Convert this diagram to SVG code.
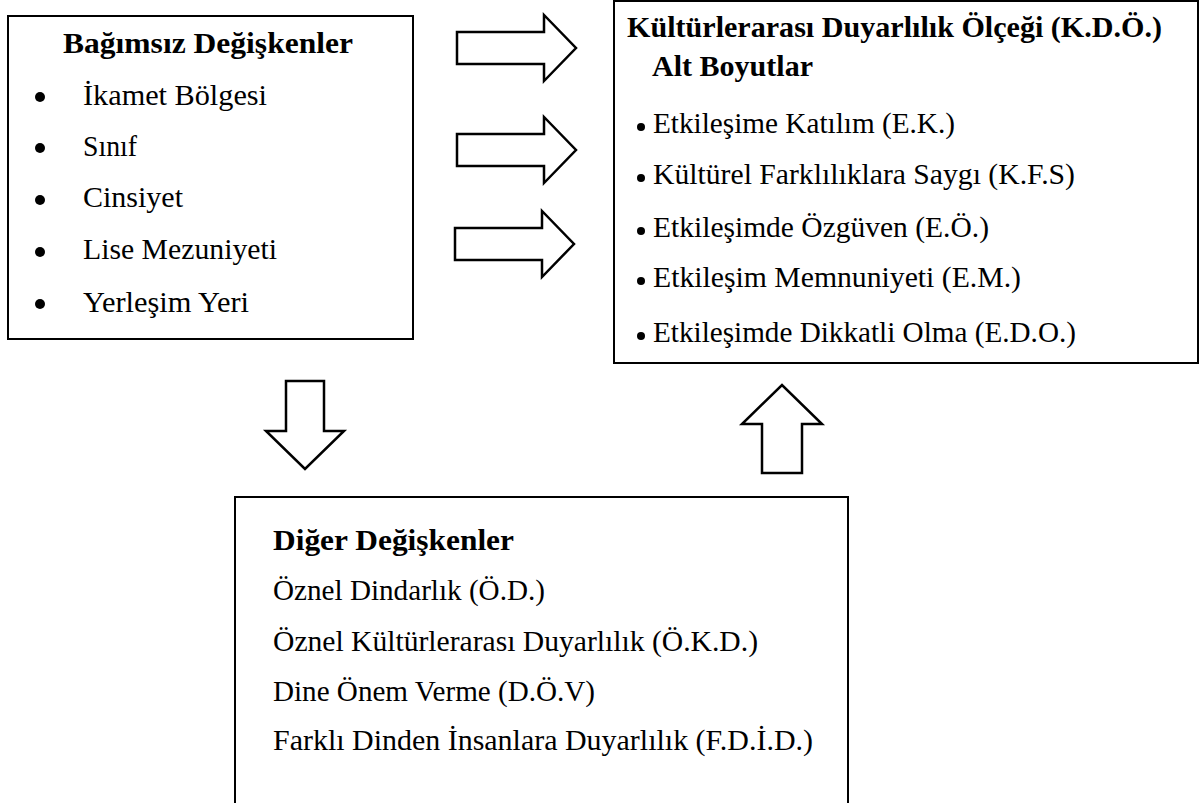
<svg xmlns="http://www.w3.org/2000/svg" width="1200" height="803" viewBox="0 0 1200 803">
<style>
.box{fill:#fff;stroke:#000;stroke-width:2}
.arr{fill:#fff;stroke:#000;stroke-width:2.5;stroke-linejoin:miter}
text{font-family:"Liberation Serif","DejaVu Serif",serif;font-size:28.5px;fill:#000}
.b{font-weight:bold}
.bul{fill:#000}
</style>
<rect width="1200" height="803" fill="#fff"/>
<g id="connectors">
<polygon class="arr" points="457,32 544,32 544,15 576,48 544,81 544,64 457,64"/>
<polygon class="arr" points="457,134 544,134 544,117 576,150 544,183 544,166 457,166"/>
<polygon class="arr" points="455,228 542,228 542,211 574,244 542,277 542,260 455,260"/>
<polygon class="arr" points="286,381 324,381 324,431 344,431 305,469 266,431 286,431"/>
<polygon class="arr" points="762,473 802,473 802,424 822,424 782,385 742,424 762,424"/>
</g>
<g id="bagimsiz">
<rect class="box" x="8" y="16" width="405" height="323"/>
<text class="b" x="63" y="53" textLength="290" lengthAdjust="spacingAndGlyphs">Bağımsız Değişkenler</text>
<circle class="bul" cx="40" cy="97" r="5"/>
<circle class="bul" cx="40" cy="148" r="5"/>
<circle class="bul" cx="40" cy="200" r="5"/>
<circle class="bul" cx="40" cy="252" r="5"/>
<circle class="bul" cx="40" cy="304" r="5"/>
<text x="83" y="105" textLength="184" lengthAdjust="spacingAndGlyphs">İkamet Bölgesi</text>
<text x="83" y="156" textLength="54" lengthAdjust="spacingAndGlyphs">Sınıf</text>
<text x="83" y="207" textLength="100" lengthAdjust="spacingAndGlyphs">Cinsiyet</text>
<text x="83" y="259" textLength="194" lengthAdjust="spacingAndGlyphs">Lise Mezuniyeti</text>
<text x="83" y="312" textLength="166" lengthAdjust="spacingAndGlyphs">Yerleşim Yeri</text>
</g>
<g id="kdo">
<rect class="box" x="614" y="1" width="584" height="362"/>
<text class="b" x="627" y="37" textLength="535" lengthAdjust="spacingAndGlyphs">Kültürlerarası Duyarlılık Ölçeği (K.D.Ö.)</text>
<text class="b" x="652" y="76" textLength="161" lengthAdjust="spacingAndGlyphs">Alt Boyutlar</text>
<circle class="bul" cx="641" cy="127" r="4"/>
<circle class="bul" cx="641" cy="178" r="4"/>
<circle class="bul" cx="641" cy="231" r="4"/>
<circle class="bul" cx="641" cy="281" r="4"/>
<circle class="bul" cx="641" cy="336" r="4"/>
<text x="653" y="133" textLength="302" lengthAdjust="spacingAndGlyphs">Etkileşime Katılım (E.K.)</text>
<text x="653" y="184" textLength="422" lengthAdjust="spacingAndGlyphs">Kültürel Farklılıklara Saygı (K.F.S)</text>
<text x="653" y="237" textLength="336" lengthAdjust="spacingAndGlyphs">Etkileşimde Özgüven (E.Ö.)</text>
<text x="653" y="287" textLength="368" lengthAdjust="spacingAndGlyphs">Etkileşim Memnuniyeti (E.M.)</text>
<text x="653" y="342" textLength="423" lengthAdjust="spacingAndGlyphs">Etkileşimde Dikkatli Olma (E.D.O.)</text>
</g>
<g id="diger">
<rect class="box" x="235" y="497" width="613" height="330"/>
<text class="b" x="273" y="550" textLength="241" lengthAdjust="spacingAndGlyphs">Diğer Değişkenler</text>
<text x="273" y="600" textLength="272" lengthAdjust="spacingAndGlyphs">Öznel Dindarlık (Ö.D.)</text>
<text x="273" y="651" textLength="485" lengthAdjust="spacingAndGlyphs">Öznel Kültürlerarası Duyarlılık (Ö.K.D.)</text>
<text x="273" y="701" textLength="322" lengthAdjust="spacingAndGlyphs">Dine Önem Verme (D.Ö.V)</text>
<text x="273" y="750" textLength="540" lengthAdjust="spacingAndGlyphs">Farklı Dinden İnsanlara Duyarlılık (F.D.İ.D.)</text>
</g>
</svg>
